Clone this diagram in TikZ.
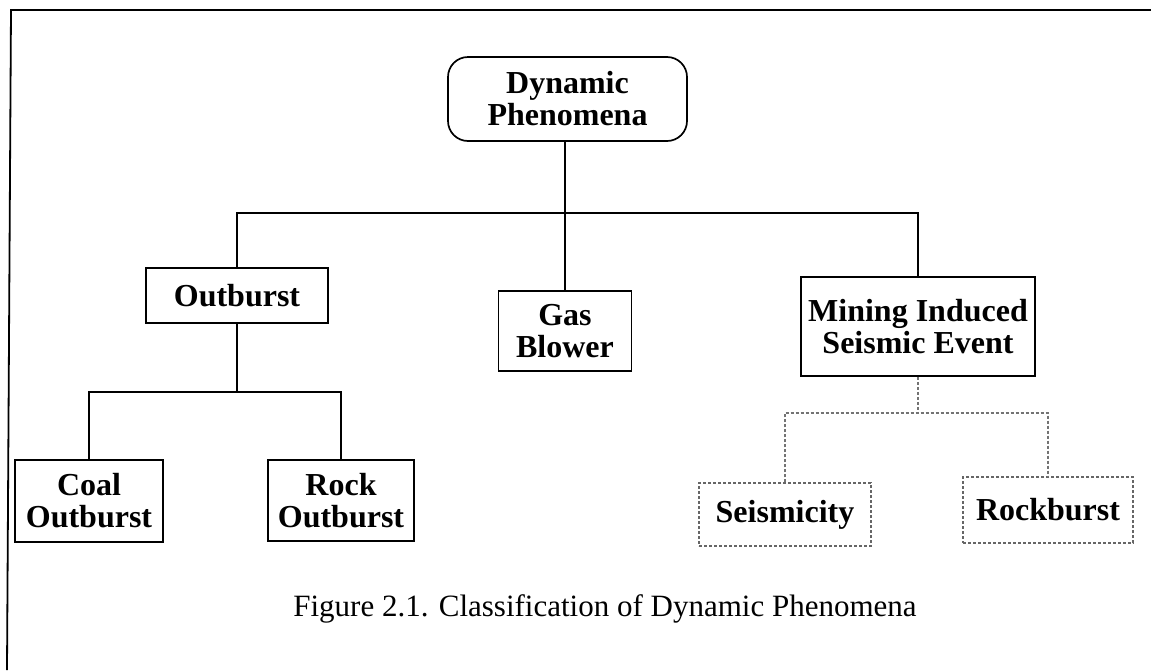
\documentclass[tikz,border=0pt]{standalone}
\usepackage{fontspec}
\setmainfont{Liberation Serif}
\begin{document}
\begin{tikzpicture}[x=1pt,y=-1pt,
  box/.style={draw, line width=1.7pt, inner sep=0pt, align=center,
    font=\bfseries\fontsize{32}{32}\selectfont},
  dbox/.style={box, draw=black!60, densely dashed, line width=1.2pt},
  conn/.style={line width=1.7pt},
  dconn/.style={draw=black!55, densely dashed, line width=1.2pt}]
\useasboundingbox (0,0) rectangle (1151,670);
\fill[white] (0,0) rectangle (1151,670);
% scanned page frame (top and left edges)
\draw[line width=1.8pt] (7,670) -- (11,10) -- (1151,10);

\node[box, rounded corners=20pt, minimum width=239pt, minimum height=84pt] (dyn) at (567.5,99) {Dynamic\\Phenomena};
\node[box, minimum width=182pt, minimum height=55pt] (out) at (237,295.5) {Outburst};
\node[box, minimum width=133pt, minimum height=80pt] (gas) at (565,331) {Gas\\Blower};
\node[box, minimum width=234pt, minimum height=99pt] (mise) at (918,326.5) {Mining Induced\\Seismic Event};
\node[box, minimum width=148pt, minimum height=82pt] (coal) at (89,501) {Coal\\Outburst};
\node[box, minimum width=146pt, minimum height=81pt] (rock) at (341,500.5) {Rock\\Outburst};
\node[dbox, minimum width=172pt, minimum height=63pt] (seis) at (785,514.5) {Seismicity};
\node[dbox, minimum width=170pt, minimum height=66pt] (rockb) at (1048,510) {Rockburst};

\node[font=\fontsize{31}{32}\selectfont, anchor=base] (cap) at (605,616) {Figure 2.1. Classification of Dynamic Phenomena};

\coordinate (bus1) at (565,213);
\coordinate (bus2) at (237,392);
\coordinate (bus3) at (918,413);

\draw[conn] (gas.north |- dyn.south) -- (gas.north);
\draw[conn] (out.north) |- (bus1) -| (mise.north);
\draw[conn] (out.south) -- (bus2);
\draw[conn] (coal.north) |- (bus2) -| (rock.north);
\draw[dconn] (mise.south) -- (bus3);
\draw[dconn] (seis.north) |- (bus3) -| (rockb.north);
\end{tikzpicture}
\end{document}
